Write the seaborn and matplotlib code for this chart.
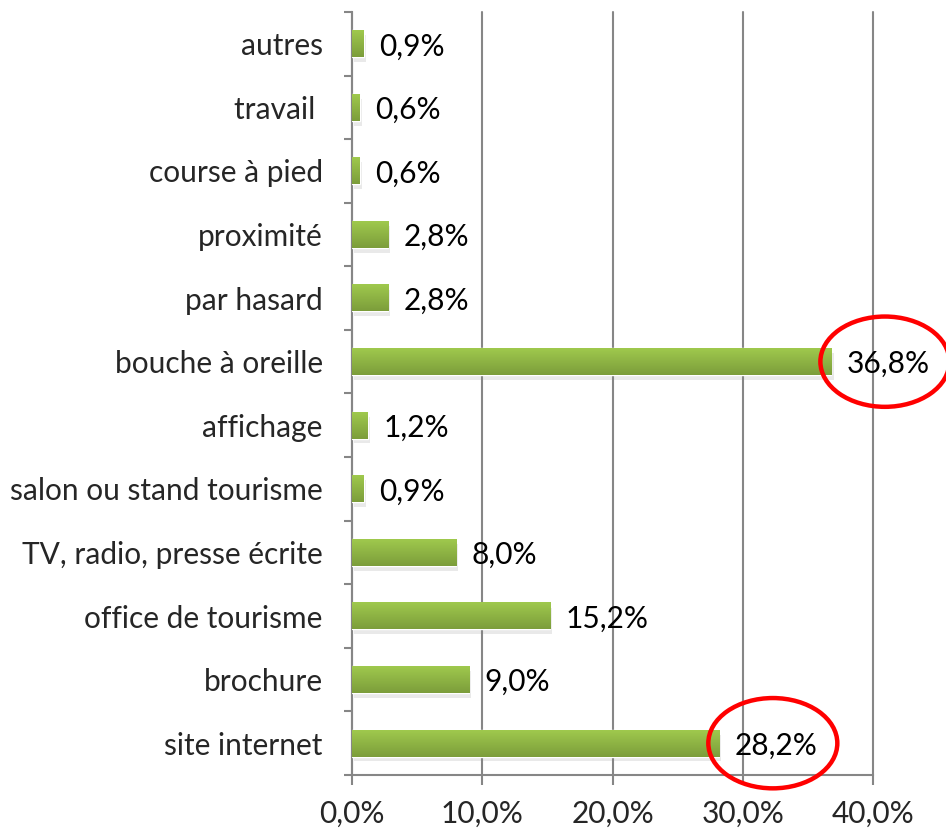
import numpy as np
import pandas as pd
import matplotlib
matplotlib.use("Agg")
import matplotlib.pyplot as plt
import matplotlib.patheffects as pe
from matplotlib.patches import Ellipse
from matplotlib.colors import LinearSegmentedColormap
import seaborn as sns

# Data (top to bottom as shown)
categories = ['autres', 'travail ', 'course à pied', 'proximité', 'par hasard',
              'bouche à oreille', 'affichage', 'salon ou stand tourisme',
              'TV, radio, presse écrite', 'office de tourisme', 'brochure',
              'site internet']
values = [0.9, 0.6, 0.6, 2.8, 2.8, 36.8, 1.2, 0.9, 8.0, 15.2, 9.0, 28.2]
highlighted = ['bouche à oreille', 'site internet']
x_ticks = [0, 10, 20, 30, 40]

df = pd.DataFrame({'cat': categories, 'val': values})

sns.set_style("white")
plt.rcParams['font.family'] = ['Lato', 'DejaVu Sans']
fs = 21.5

fig = plt.figure(figsize=(9.46, 8.31), dpi=100)
ax = fig.add_axes([0.372, 0.0674, 0.551, 0.9182])

grid_col = '#868686'
sns.barplot(data=df, x='val', y='cat', orient='h', color='#8DB241',
            width=0.42, ax=ax, zorder=3)

# gradient fill + soft shadow on every bar
cmap = LinearSegmentedColormap.from_list('g', ['#9FC94D', '#7C9D3B'])
grad = np.linspace(0, 1, 64).reshape(-1, 1)
for bar in ax.patches:
    bar.set_path_effects([pe.SimplePatchShadow(offset=(1.5, -3.5), shadow_rgbFace='#888888', alpha=0.18),
                          pe.Normal()])
    x0, y0 = bar.get_x(), bar.get_y()
    w, h = bar.get_width(), bar.get_height()
    ax.imshow(grad, cmap=cmap, aspect='auto', extent=(x0, x0 + w, y0 + h, y0),
              zorder=4, interpolation='bilinear')

# value labels
for i, v in enumerate(values):
    ax.text(v + 1.2, i + 0.04, f"{v:.1f}%".replace('.', ','), va='center',
            ha='left', fontsize=fs, color='black', zorder=6)

# red ellipses around highlighted labels
for name in highlighted:
    i = categories.index(name)
    v = values[i]
    ax.add_patch(Ellipse((v + 4.1, i), 9.9, 1.42, fill=False, edgecolor='#FF0000',
                         linewidth=3.2, clip_on=False, zorder=7))

ax.set_xlim(0, 40)
ax.set_ylim(len(categories) - 0.5, -0.5)
ax.set_xticks(x_ticks)
ax.set_xticklabels([f"{t:.1f}%".replace('.', ',') for t in x_ticks], fontsize=fs)
ax.set_yticks(range(len(categories)))
ax.set_yticklabels(categories, fontsize=fs)
ax.set_yticks(np.arange(-0.5, len(categories)), minor=True)
ax.tick_params(axis='y', which='major', length=0, pad=21)
ax.tick_params(axis='y', which='minor', length=6, width=1.5, color=grid_col, left=True)
ax.tick_params(axis='x', length=7, width=1.5, color=grid_col, bottom=True, pad=11)
ax.set_xlabel('')
ax.set_ylabel('')

ax.xaxis.grid(True, color=grid_col, linewidth=1.5, zorder=0)
for gl in ax.get_xgridlines():
    gl.set_clip_on(False)
ax.set_axisbelow(True)
for s in ['top', 'right']:
    ax.spines[s].set_visible(False)
for s in ['left', 'bottom']:
    ax.spines[s].set_color(grid_col)
    ax.spines[s].set_linewidth(1.5)

fig.savefig('out.png', dpi=100)
